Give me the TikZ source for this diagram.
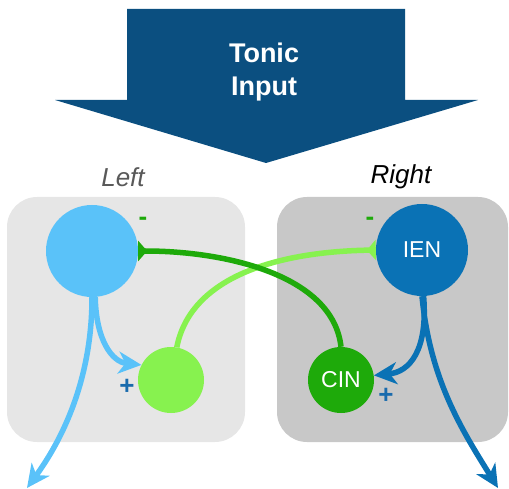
\documentclass[tikz,border=0pt]{standalone}
\usepackage{fontspec}
\setmainfont{Liberation Sans}
\usetikzlibrary{arrows.meta}

\definecolor{tonicblue}{HTML}{0B4F80}
\definecolor{skyblue}{HTML}{5AC2F9}
\definecolor{ienblue}{HTML}{0A72B5}
\definecolor{limegreen}{HTML}{87F24F}
\definecolor{cingreen}{HTML}{1EAA0A}
\definecolor{leftgray}{HTML}{E6E6E6}
\definecolor{rightgray}{HTML}{C8C8C8}
\definecolor{plusblue}{HTML}{1A6BAD}

\tikzset{
  cell/.style={circle, inner sep=0pt, text=white, font=\fontsize{23}{26}\selectfont},
  excite/.style={line width=5.5pt, -{Stealth[length=23pt, width=22pt, inset=7pt]}},
  inhibit/.style={line width=5.5pt, -{Triangle[reversed, length=9pt, width=20pt]}},
  sign/.style={font=\bfseries\fontsize{26}{28}\selectfont}
}

\begin{document}
\begin{tikzpicture}[x=1pt, y=-1pt]
  \useasboundingbox (0,0) rectangle (509,489);

  % tonic input arrow
  \fill[tonicblue] (127,9) -- (405,9) -- (405,100) -- (478,100) -- (266,163)
    -- (55,100) -- (127,100) -- cycle;
  \node[text=white, align=center, font=\bfseries\fontsize{27}{33}\selectfont] (tonic) at (264,72) {Tonic\\Input};

  % sides
  \node[text=black!65, font=\itshape\fontsize{26}{30}\selectfont] (left) at (123,177) {Left};
  \node[text=black, font=\itshape\fontsize{26}{30}\selectfont] (right) at (401,177) {Right};
  \fill[leftgray, rounded corners=30pt] (7,197) rectangle (245,442);
  \fill[rightgray, rounded corners=30pt] (277,197) rectangle (508,442);

  % cells
  \node[cell, fill=skyblue, minimum size=92pt] (l) at (92,251) {};
  \node[cell, fill=limegreen, minimum size=66pt] (lc) at (171,380) {};
  \node[cell, fill=ienblue, minimum size=92pt] (ien) at (422,250) {IEN};
  \node[cell, fill=cingreen, minimum size=66pt] (cin) at (341,380) {CIN};

  \coordinate (lout) at (27,488);
  \coordinate (rout) at (498,488);

  % crossed inhibition
  \draw[inhibit, limegreen] (lc.80) .. controls (190,280) and (270,252) .. (ien.west);
  \draw[inhibit, cingreen] (cin.north) .. controls (333,275) and (225,251) .. (l.east);

  % excitation
  \draw[excite, skyblue] (l.south) .. controls (92,380) and (62,440) .. (lout);
  \draw[excite, skyblue] (l.-86) .. controls (96,340) and (112,362) .. (lc.153);
  \draw[excite, ienblue] (ien.south) .. controls (430,380) and (462,430) .. (rout);
  \draw[excite, ienblue] (ien.-88) .. controls (428,350) and (410,372) .. (cin.8);

  \node[sign, text=cingreen] (lm) at (143,221) {-};
  \node[sign, text=cingreen] (rm) at (370,221) {-};
  \node[sign, text=plusblue] (lp) at (127,387) {+};
  \node[sign, text=plusblue] (rp) at (386,396) {+};
\end{tikzpicture}
\end{document}
